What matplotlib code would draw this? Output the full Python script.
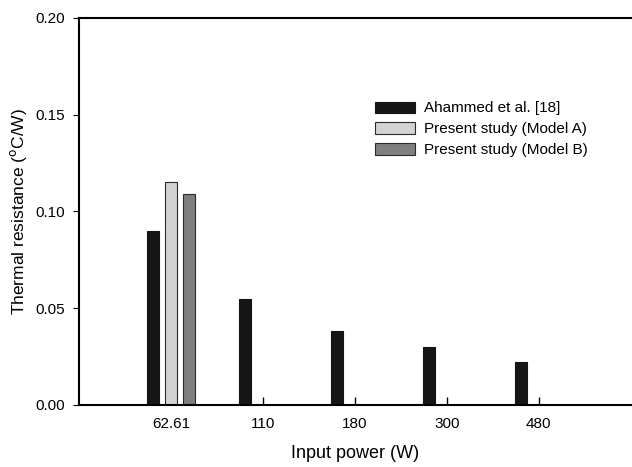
import numpy as np
import matplotlib
matplotlib.use("Agg")
import matplotlib.pyplot as plt

plt.rcParams['font.family'] = ['Liberation Sans', 'DejaVu Sans']

# data
powers = ["62.61", "110", "180", "300", "480"]
ahammed = [0.090, 0.055, 0.038, 0.030, 0.022]
model_a = [0.115]
model_b = [0.109]

fig = plt.figure(figsize=(6.32, 4.67), dpi=100)
ax = fig.add_axes([0.125, 0.1328, 0.873, 0.8287])

x = np.arange(len(powers))
w = 0.13
step = 0.196

# bars above the tick marks so the 62.61 tick is hidden like in the original
ax.bar(x - step, ahammed, width=w, color="#151515", edgecolor="#151515",
       linewidth=0.8, label="Ahammed et al. [18]", zorder=3)
ax.bar(x[:1], model_a, width=w, color="#d3d3d3", edgecolor="#2a2a2a",
       linewidth=0.8, label="Present study (Model A)", zorder=3)
ax.bar(x[:1] + step, model_b, width=w, color="#7f7f7f", edgecolor="#2a2a2a",
       linewidth=0.8, label="Present study (Model B)", zorder=3)

ax.set_xlim(-1, 5)
ax.set_ylim(0, 0.20)
ax.set_xticks(x)
ax.set_xticklabels(powers)
ax.set_yticks([0.00, 0.05, 0.10, 0.15, 0.20])
ax.set_yticklabels(["0.00", "0.05", "0.10", "0.15", "0.20"])

ax.tick_params(axis="x", direction="in", length=6, width=1.0, labelsize=11, pad=9)
ax.tick_params(axis="y", direction="out", length=4, width=0.8, labelsize=11, pad=6)

for s in ["left", "bottom", "top"]:
    ax.spines[s].set_linewidth(1.5)
    ax.spines[s].set_zorder(4)
ax.spines["right"].set_visible(False)

ax.set_xlabel("Input power (W)", fontsize=13, labelpad=10)
ax.set_ylabel("Thermal resistance ($^{\\mathrm{o}}$C/W)", fontsize=12.5, labelpad=5)

ax.legend(loc="upper left", bbox_to_anchor=(0.526, 0.80), frameon=False,
          fontsize=11, handlelength=2.6, handleheight=0.75,
          labelspacing=0.45, handletextpad=0.6, borderaxespad=0)

fig.savefig("out.png", dpi=100)
